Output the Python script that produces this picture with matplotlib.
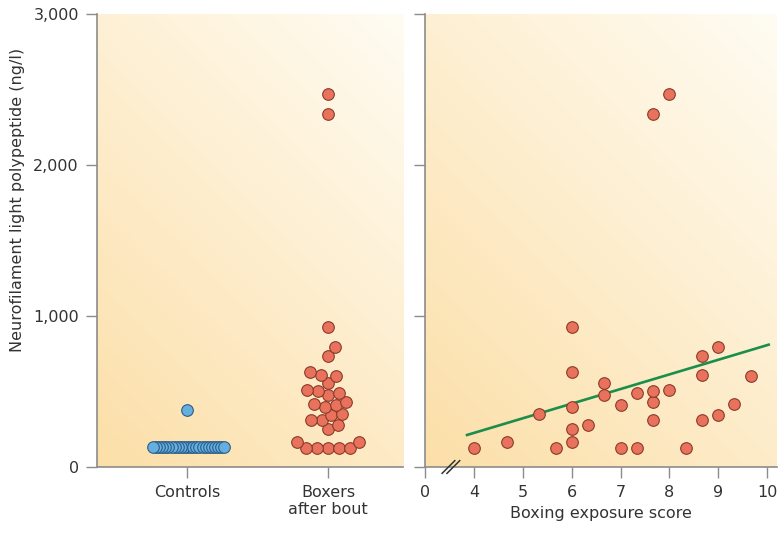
import numpy as np
import matplotlib
matplotlib.use("Agg")
from matplotlib import pyplot as plt
from matplotlib import transforms


# values
controls_nfl = [130] * 24 + [377]

boxers_exposure = [4.0, 5.67, 7.0, 7.33, 8.33, 4.67, 6.0, 6.0, 6.33, 7.67,
                   8.67, 9.0, 5.33, 6.0, 7.0, 9.33, 7.67, 6.67, 7.33, 7.67,
                   8.0, 6.67, 9.67, 8.67, 6.0, 8.67, 9.0, 6.0, 7.67, 8.0]
boxers_nfl = [128, 128, 128, 128, 128, 165, 165, 250, 278, 308,
              310, 342, 350, 400, 408, 418, 430, 480, 490, 502,
              511, 558, 605, 610, 632, 738, 795, 927, 2341, 2473]

# regression line end points
fit_x = [3.86, 10.03]
fit_y = [212, 810]

group_labels = ['Controls', 'Boxers\nafter bout']
y_ticks = [0, 1000, 2000, 3000]
y_tick_labels = ['0', '1,000', '2,000', '3,000']
score_ticks = [3, 4, 5, 6, 7, 8, 9, 10]
score_tick_labels = ['0', '4', '5', '6', '7', '8', '9', '10']

TEXT = '#333333'
SPINE = '#8c8c8c'
RED = '#e8725c'
RED_EDGE = '#8a3a2a'
BLUE = '#64aee0'
BLUE_EDGE = '#2c5d87'
GREEN = '#1b8e4b'


def paint_background(ax, w, h):
    n = 200
    u = np.linspace(0, 1, n)
    X, Y = np.meshgrid(u, u)
    t = (X * w + Y * h) / (w + h)
    c0 = np.array([252, 223, 168]) / 255.0
    c1 = np.array([255, 252, 243]) / 255.0
    img = c0[None, None, :] + (c1 - c0)[None, None, :] * t[:, :, None]
    ax.imshow(img, extent=[0, 1, 0, 1], transform=ax.transAxes,
              origin='lower', aspect='auto', zorder=0)


def swarm_offsets(ax, xc, vals, d):
    vals = np.asarray(vals, dtype=float)
    pts = ax.transData.transform(np.column_stack([np.full(len(vals), xc), vals]))
    x0 = pts[0, 0]
    xs = np.zeros(len(vals))
    placed = []
    for i in np.argsort(vals, kind='stable'):
        y = pts[i, 1]
        cands = [0.0]
        for px, py in placed:
            dy = y - py
            if abs(dy) < d:
                r = np.sqrt(d * d - dy * dy)
                cands += [px + r, px - r]
        cands.sort(key=lambda c: (abs(c), -c))
        for c in cands:
            ok = all((c - px) ** 2 + (y - py) ** 2 >= d * d - 1e-6
                     for px, py in placed)
            if ok:
                break
        placed.append((c, y))
        xs[i] = x0 + c
    back = ax.transData.inverted().transform(np.column_stack([xs, pts[:, 1]]))
    return back[:, 0]


def style_axes(ax):
    for s in ['top', 'right']:
        ax.spines[s].set_visible(False)
    for s in ['left', 'bottom']:
        ax.spines[s].set_color(SPINE)
        ax.spines[s].set_linewidth(1.2)
    ax.tick_params(direction='out', length=8, width=1, color=SPINE,
                   labelcolor=TEXT, labelsize=11.5, pad=5)


W, H = 783, 533
fig = plt.figure(figsize=(W / 100, H / 100), dpi=100)

ax1 = fig.add_axes([97 / W, 66 / H, 306 / W, 453 / H])
ax2 = fig.add_axes([425 / W, 66 / H, 352 / W, 453 / H])

paint_background(ax1, 306, 453)
paint_background(ax2, 352, 453)

# left panel: groups
ax1.set_xlim(-0.638, 1.531)
ax1.set_ylim(0, 3000)
style_axes(ax1)
ax1.set_xticks([0, 1])
ax1.set_xticklabels(group_labels, fontsize=11.5, color=TEXT)
ax1.set_yticks(y_ticks)
ax1.set_yticklabels(y_tick_labels)

cx = swarm_offsets(ax1, 0, controls_nfl, 3.1)
ax1.scatter(cx, controls_nfl, s=70, color=BLUE, edgecolor=BLUE_EDGE,
            linewidth=0.8, zorder=3)
bx = swarm_offsets(ax1, 1, boxers_nfl, 10.8)
ax1.scatter(bx, boxers_nfl, s=70, color=RED, edgecolor=RED_EDGE,
            linewidth=0.8, zorder=3)

# right panel: exposure score
ax2.set_xlim(3, 10.2)
ax2.set_ylim(0, 3000)
style_axes(ax2)
ax2.set_xticks(score_ticks)
ax2.set_xticklabels(score_tick_labels)
ax2.set_yticks(y_ticks)
ax2.set_yticklabels([])
ax2.set_xlabel('Boxing exposure score', fontsize=11.5, color=TEXT, labelpad=4)

ax2.plot(fit_x, fit_y, color=GREEN, linewidth=1.9, zorder=2)
ax2.scatter(boxers_exposure, boxers_nfl, s=70, color=RED, edgecolor=RED_EDGE,
            linewidth=0.8, zorder=3)

# axis break marks
blend = transforms.blended_transform_factory(ax2.transData, ax2.transAxes)
for xb in [3.48, 3.58]:
    ax2.plot([xb - 0.13, xb + 0.13], [-0.014, 0.014], transform=blend,
             color=TEXT, linewidth=1.1, clip_on=False, zorder=5)

fig.text(18 / W, 1 - 200 / H, 'Neurofilament light polypeptide (ng/l)',
         rotation=90, ha='center', va='center', fontsize=11.5, color=TEXT)

fig.savefig('out.png', dpi=100)
